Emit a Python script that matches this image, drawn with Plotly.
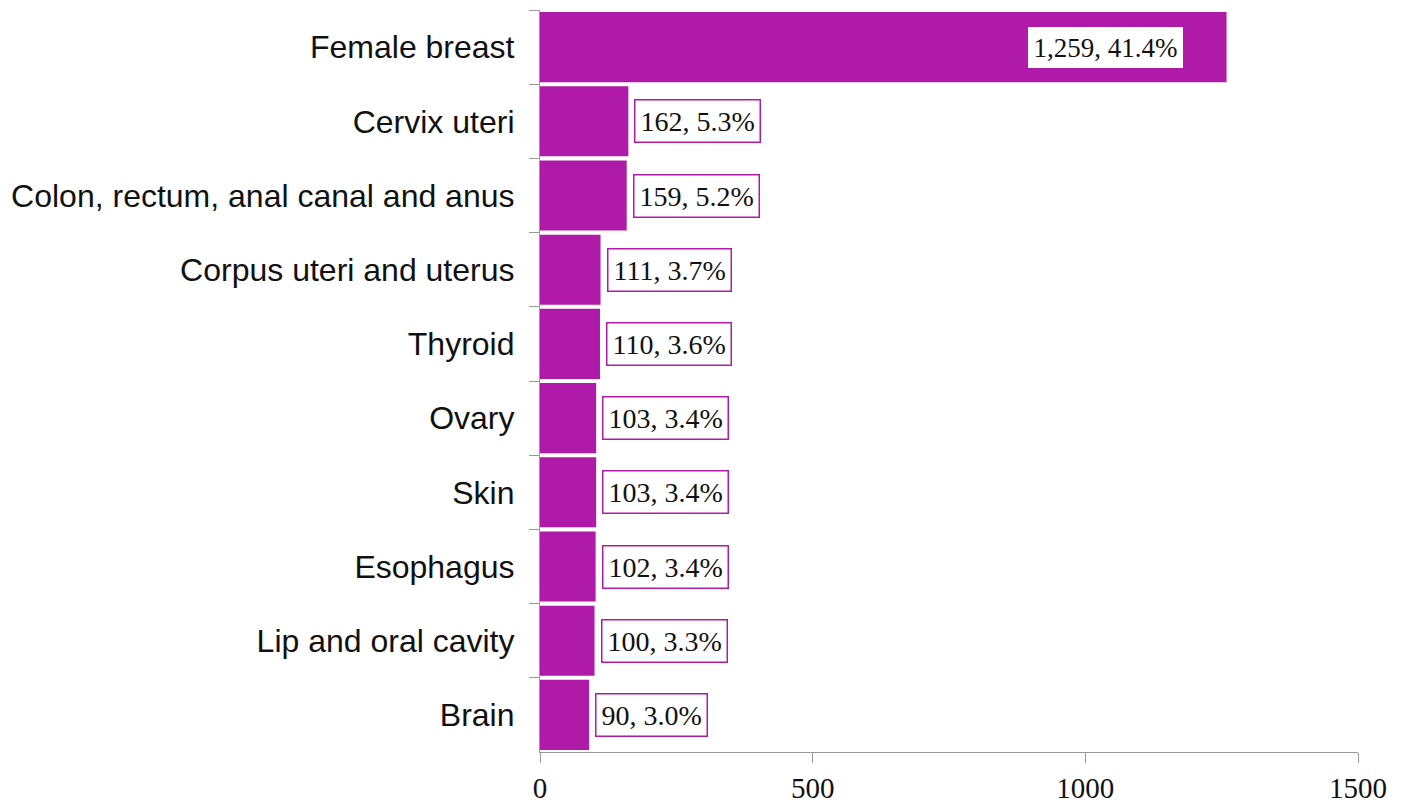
import plotly.graph_objects as go

categories = ["Female breast", "Cervix uteri", "Colon, rectum, anal canal and anus",
              "Corpus uteri and uterus", "Thyroid", "Ovary", "Skin", "Esophagus",
              "Lip and oral cavity", "Brain"]
counts = [1259, 162, 159, 111, 110, 103, 103, 102, 100, 90]
percents = [41.4, 5.3, 5.2, 3.7, 3.6, 3.4, 3.4, 3.4, 3.3, 3.0]
x_ticks = [0, 500, 1000, 1500]

PURPLE = "#AF1BA8"

fig = go.Figure()
fig.add_trace(go.Bar(
    y=categories, x=counts, orientation="h",
    marker=dict(color=PURPLE, line=dict(width=0)),
    hoverinfo="skip",
))

for i, (c, n, p) in enumerate(zip(categories, counts, percents)):
    txt = f"{n:,}, {p:.1f}%"
    if i == 0:
        fig.add_annotation(x=n, y=c, text=txt, showarrow=False, xanchor="right",
                           xshift=-44, bgcolor="white", bordercolor="white",
                           borderwidth=1.5, borderpad=4,
                           font=dict(family="Liberation Serif", size=27, color="#111"))
    else:
        fig.add_annotation(x=n, y=c, text=txt, showarrow=False, xanchor="left",
                           xshift=6, bgcolor="white", bordercolor=PURPLE,
                           borderwidth=1.5, borderpad=5,
                           font=dict(family="Liberation Serif", size=28, color="#111"))

fig.update_layout(
    width=1398, height=797,
    margin=dict(l=532, r=48, t=2, b=53),
    plot_bgcolor="white", paper_bgcolor="white",
    bargap=0.055, showlegend=False,
)
fig.update_xaxes(
    range=[0, 1500], tickvals=x_ticks, ticktext=[str(v) for v in x_ticks],
    showgrid=False, zeroline=False, showline=True, linecolor="#999", linewidth=1.2,
    ticks="outside", ticklen=10, tickcolor="#999", tickwidth=1.2,
    tickfont=dict(family="Liberation Serif", size=29, color="#111"),
    ticklabelstandoff=0, automargin=False,
)
fig.update_yaxes(
    categoryorder="array", categoryarray=categories, autorange="reversed",
    showgrid=False, showline=True, linecolor="#999", linewidth=1.2,
    ticks="outside", ticklen=10, tickcolor="#999", tickwidth=1.2, tickson="boundaries",
    tickfont=dict(family="Liberation Sans", size=32, color="#111"),
    ticklabelstandoff=18, automargin=False,
)

fig.write_html("out.html")
